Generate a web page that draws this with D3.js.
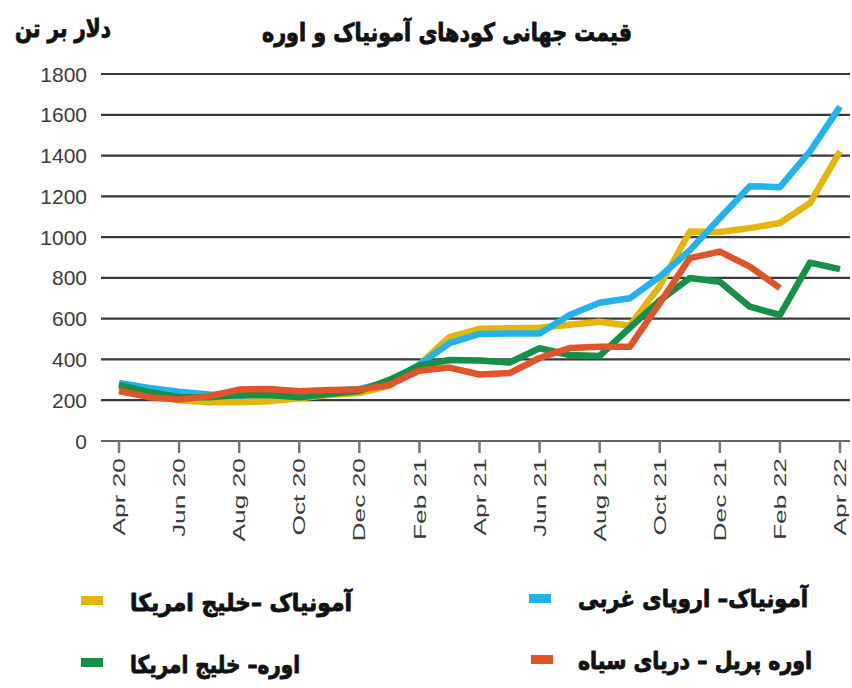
<!DOCTYPE html>
<html>
<head>
<meta charset="utf-8">
<script src="https://cdn.jsdelivr.net/npm/d3@7"></script>
<style>
  body { margin: 0; background: #fff; }
  svg { display: block; }
</style>
</head>
<body>
<div id="chart"></div>
<script>
// months Apr 20 .. Apr 22
var months = ["Apr 20","May 20","Jun 20","Jul 20","Aug 20","Sep 20","Oct 20","Nov 20","Dec 20",
  "Jan 21","Feb 21","Mar 21","Apr 21","May 21","Jun 21","Jul 21","Aug 21","Sep 21","Oct 21",
  "Nov 21","Dec 21","Jan 22","Feb 22","Mar 22","Apr 22"];
var tickLabels = ["Apr 20","Jun 20","Aug 20","Oct 20","Dec 20","Feb 21","Apr 21","Jun 21",
  "Aug 21","Oct 21","Dec 21","Feb 22","Apr 22"];
var yTicks = [0, 200, 400, 600, 800, 1000, 1200, 1400, 1600, 1800];

// dollars per tonne
var ammoniaUsGulf = [265,230,200,190,190,195,210,225,235,270,375,510,550,553,555,570,585,565,760,
  1027,1025,1044,1069,1167,1420];
var ureaUsGulf = [275,240,215,215,225,225,215,230,245,300,370,397,395,385,455,422,417,555,690,
  799,781,659,618,875,843];
var ammoniaWestEurope = [285,260,242,228,222,232,240,245,255,290,375,480,525,527,527,618,678,700,806,
  935,1094,1250,1245,1420,1640];
var ureaBlackSea = [245,215,203,220,252,255,244,250,252,275,345,360,326,333,407,456,462,462,676,
  897,929,855,750,null,null];

var series = [
  {name: "ammoniaUsGulf", values: ammoniaUsGulf, color: "#e7b50a"},
  {name: "ammoniaWestEurope", values: ammoniaWestEurope, color: "#22b3ee"},
  {name: "ureaUsGulf", values: ureaUsGulf, color: "#149048"},
  {name: "ureaBlackSea", values: ureaBlackSea, color: "#e2532a"}
];

var width = 852, height = 688;

var svg = d3.select("#chart").append("svg")
    .attr("width", width)
    .attr("height", height);

var x = d3.scalePoint()
    .domain(months)
    .range([119, 840]);

var y = d3.scaleLinear()
    .domain([0, 1800])
    .range([441, 74]);

// persian text is heavy in the original, fake it with a stroke
function heavy(sel, size) {
  sel.attr("lengthAdjust", "spacingAndGlyphs")
    .style("font-family", "DejaVu Sans")
    .style("font-weight", "bold")
    .style("font-size", size + "px")
    .style("fill", "#111")
    .style("stroke", "#111")
    .style("stroke-width", 0.9)
    .style("stroke-linejoin", "round");
}

// title + unit
svg.append("text")
    .attr("x", 262).attr("y", 41)
    .attr("textLength", 370)
    .call(heavy, 25)
    .text("قیمت جهانی کودهای آمونیاک و اوره");

svg.append("text")
    .attr("x", 15).attr("y", 37)
    .attr("textLength", 96)
    .call(heavy, 25)
    .text("دلار بر تن");

// horizontal grid
svg.append("g")
  .selectAll("line")
  .data(yTicks)
  .enter().append("line")
    .attr("x1", 101).attr("x2", 850)
    .attr("y1", function(d) { return y(d); })
    .attr("y2", function(d) { return y(d); })
    .attr("stroke", function(d) { return d === 0 ? "#666" : "#3a3a3a"; })
    .attr("stroke-width", 2.2);

// y labels
svg.append("g")
  .selectAll("text")
  .data(yTicks)
  .enter().append("text")
    .attr("x", 87)
    .attr("y", function(d) { return y(d); })
    .attr("dy", "0.36em")
    .attr("text-anchor", "end")
    .style("font-family", "Liberation Sans, Arial, sans-serif")
    .style("font-size", "21px")
    .style("fill", "#3c3c3c")
    .text(function(d) { return d; });

// x ticks + rotated labels
var xg = svg.append("g");
xg.selectAll("line")
  .data(tickLabels)
  .enter().append("line")
    .attr("x1", function(d) { return x(d); })
    .attr("x2", function(d) { return x(d); })
    .attr("y1", 441).attr("y2", 453)
    .attr("stroke", "#777")
    .attr("stroke-width", 2.5);

xg.selectAll("text")
  .data(tickLabels)
  .enter().append("text")
    .attr("transform", function(d) {
      return "translate(" + x(d) + ",458) rotate(-90) scale(1.55,1)";
    })
    .attr("dy", "0.36em")
    .attr("text-anchor", "end")
    .style("font-family", "Liberation Sans, Arial, sans-serif")
    .style("font-size", "17px")
    .style("fill", "#3c3c3c")
    .text(function(d) { return d; });

// lines
var line = d3.line()
    .defined(function(d) { return d != null; })
    .x(function(d, i) { return x(months[i]); })
    .y(function(d) { return y(d); });

series.forEach(function(s) {
  svg.append("path")
      .datum(s.values)
      .attr("fill", "none")
      .attr("stroke", s.color)
      .attr("stroke-width", 6.5)
      .attr("stroke-linejoin", "round")
      .attr("d", line);
});

// legend
var legend = [
  {label: "آمونیاک –خلیج امریکا", color: "#e7b50a", sx: 81, sy: 596, tx: 130, ty: 611, len: 222},
  {label: "آمونیاک– اروپای غربی", color: "#22b3ee", sx: 529, sy: 594, tx: 578, ty: 607, len: 230},
  {label: "اوره– خلیج امریکا", color: "#149048", sx: 81, sy: 658, tx: 130, ty: 673, len: 170},
  {label: "اوره پریل – دریای سیاه", color: "#e2532a", sx: 531, sy: 655, tx: 578, ty: 669, len: 234}
];

var lg = svg.append("g").selectAll("g")
  .data(legend)
  .enter().append("g");

lg.append("rect")
    .attr("x", function(d) { return d.sx; })
    .attr("y", function(d) { return d.sy; })
    .attr("width", 22).attr("height", 9)
    .attr("fill", function(d) { return d.color; });

lg.append("text")
    .attr("x", function(d) { return d.tx; })
    .attr("y", function(d) { return d.ty; })
    .attr("textLength", function(d) { return d.len; })
    .call(heavy, 24)
    .text(function(d) { return d.label; });
</script>
</body>
</html>
